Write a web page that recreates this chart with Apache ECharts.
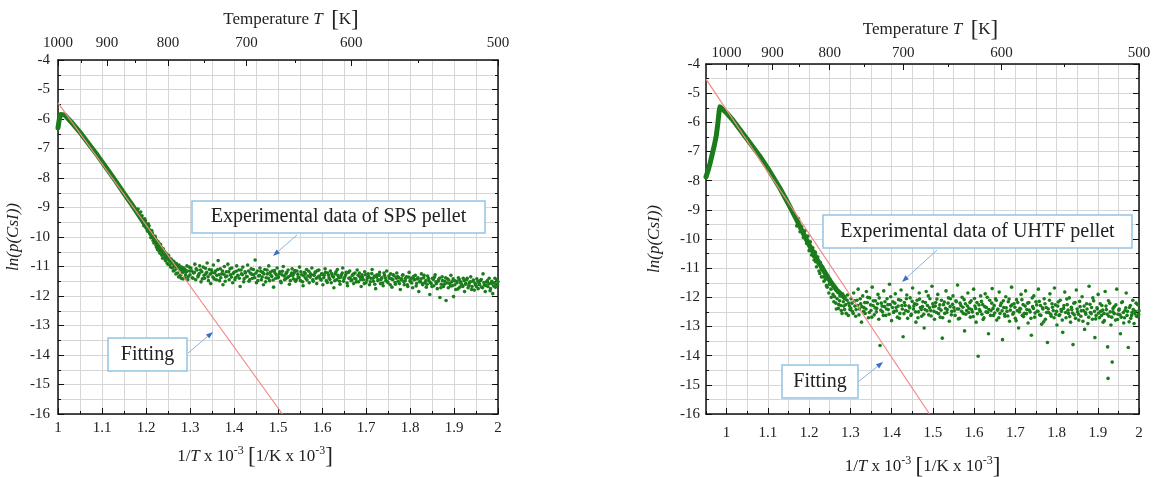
<!DOCTYPE html>
<html><head><meta charset="utf-8">
<script src="https://cdn.jsdelivr.net/npm/echarts@6/dist/echarts.min.js"></script>
<style>html,body{margin:0;padding:0;background:#fff}#c{width:1154px;height:477px}</style>
</head><body><div id="c"></div>
<script>
// ---------- tick labels ----------
const tempMajor = [1000, 900, 800, 700, 600, 500];
const tempMinor = [950, 850, 750, 650, 550];
const invTMajor = [1, 1.1, 1.2, 1.3, 1.4, 1.5, 1.6, 1.7, 1.8, 1.9, 2];

// ---------- left panel (SPS pellet) ----------
const leftCurve = [[1.000,-6.30],[1.003,-6.00],[1.006,-5.85],[1.009,-5.80],[1.015,-5.86],[1.030,-6.10],[1.050,-6.45],[1.070,-6.85],[1.090,-7.24],[1.110,-7.66],[1.130,-8.08],[1.150,-8.52],[1.170,-8.95],[1.190,-9.40],[1.210,-9.85],[1.230,-10.30],[1.250,-10.70],[1.270,-11.00],[1.290,-11.15]];
const leftScatter = [
[1.182,-9.05],[1.186,-9.35],[1.191,-9.28],[1.195,-9.62],[1.199,-9.45],[1.203,-9.80],[1.207,-9.62],[1.211,-10.02],[1.214,-9.85],[1.218,-10.20],[1.221,-9.98],[1.224,-10.35],[1.227,-10.15],[1.230,-10.48],[1.233,-10.25],[1.236,-10.62],[1.239,-10.40],[1.242,-10.70],[1.245,-10.55],[1.248,-10.88],[1.251,-10.62],[1.254,-10.95],[1.257,-10.75],[1.260,-11.05],[1.263,-10.82],[1.266,-11.12],[1.269,-10.90],[1.272,-11.22],[1.275,-10.95],[1.278,-11.30],[1.281,-11.02],[1.284,-11.42],[1.287,-11.10],[1.290,-11.28],[1.293,-10.98],[1.296,-11.35],[1.299,-11.15],
[1.302,-11.05],[1.305,-11.38],[1.308,-11.22],[1.311,-10.92],[1.313,-11.45],[1.316,-11.12],[1.319,-11.30],[1.322,-10.98],[1.325,-11.52],[1.327,-11.18],[1.330,-11.02],[1.333,-11.40],[1.336,-11.25],[1.339,-10.88],[1.341,-11.35],[1.344,-11.10],[1.347,-11.58],[1.350,-11.20],[1.353,-10.95],[1.355,-11.42],[1.358,-11.15],[1.361,-11.30],[1.364,-10.80],[1.367,-11.48],[1.369,-11.08],[1.372,-11.25],[1.375,-11.62],[1.378,-11.00],[1.381,-11.35],[1.383,-11.18],[1.386,-10.92],[1.389,-11.45],[1.392,-11.28],[1.395,-11.05],[1.397,-11.55],[1.400,-11.20],
[1.403,-11.38],[1.406,-10.98],[1.409,-11.30],[1.411,-11.12],[1.414,-11.68],[1.417,-11.25],[1.420,-11.02],[1.423,-11.42],[1.425,-11.18],[1.428,-11.35],[1.431,-10.95],[1.434,-11.50],[1.437,-11.22],[1.439,-11.08],[1.442,-11.40],[1.445,-11.28],[1.448,-10.78],[1.451,-11.55],[1.453,-11.15],[1.456,-11.32],[1.459,-11.05],[1.462,-11.45],[1.465,-11.20],[1.467,-11.62],[1.470,-11.10],[1.473,-11.38],[1.476,-11.25],[1.479,-10.98],[1.481,-11.48],[1.484,-11.30],[1.487,-11.15],[1.490,-11.70],[1.493,-11.22],[1.495,-11.40],[1.498,-11.05],
[1.501,-11.35],[1.504,-11.18],[1.507,-11.55],[1.509,-11.28],[1.512,-11.00],[1.515,-11.45],[1.518,-11.25],[1.521,-11.38],[1.523,-11.12],[1.526,-11.60],[1.529,-11.30],[1.532,-11.08],[1.535,-11.42],[1.537,-11.22],[1.540,-11.50],[1.543,-11.15],[1.546,-11.35],[1.549,-11.02],[1.551,-11.48],[1.554,-11.28],[1.557,-11.65],[1.560,-11.20],[1.563,-11.40],[1.565,-11.10],[1.568,-11.32],[1.571,-11.55],[1.574,-11.25],[1.577,-11.05],[1.579,-11.45],[1.582,-11.30],[1.585,-11.18],[1.588,-11.58],[1.591,-11.35],[1.593,-11.12],[1.596,-11.42],[1.599,-11.25],
[1.602,-11.62],[1.605,-11.30],[1.607,-11.08],[1.610,-11.48],[1.613,-11.22],[1.616,-11.38],[1.619,-11.15],[1.621,-11.55],[1.624,-11.32],[1.627,-11.72],[1.630,-11.25],[1.633,-11.45],[1.635,-11.10],[1.638,-11.38],[1.641,-11.60],[1.644,-11.28],[1.647,-11.05],[1.649,-11.50],[1.652,-11.35],[1.655,-11.20],[1.658,-11.65],[1.661,-11.40],[1.663,-11.15],[1.666,-11.48],[1.669,-11.30],[1.672,-11.58],[1.675,-11.22],[1.677,-11.42],[1.680,-11.12],[1.683,-11.52],[1.686,-11.35],[1.689,-11.68],[1.691,-11.28],[1.694,-11.45],[1.697,-11.18],
[1.700,-11.55],[1.703,-11.38],[1.705,-11.25],[1.708,-11.62],[1.711,-11.40],[1.714,-11.10],[1.717,-11.50],[1.719,-11.32],[1.722,-11.75],[1.725,-11.28],[1.728,-11.45],[1.731,-11.20],[1.733,-11.58],[1.736,-11.38],[1.739,-11.65],[1.742,-11.30],[1.745,-11.48],[1.747,-11.15],[1.750,-11.55],[1.753,-11.40],[1.756,-11.25],[1.759,-11.70],[1.761,-11.45],[1.764,-11.32],[1.767,-11.60],[1.770,-11.22],[1.773,-11.50],[1.775,-11.38],[1.778,-11.78],[1.781,-11.42],[1.784,-11.28],[1.787,-11.62],[1.789,-11.48],[1.792,-11.35],[1.795,-11.68],[1.798,-11.20],
[1.801,-11.52],[1.803,-11.40],[1.806,-11.72],[1.809,-11.45],[1.812,-11.30],[1.815,-11.58],[1.817,-11.42],[1.820,-11.85],[1.823,-11.50],[1.826,-11.25],[1.829,-11.62],[1.831,-11.38],[1.834,-11.55],[1.837,-11.70],[1.840,-11.32],[1.843,-11.48],[1.845,-11.95],[1.848,-11.58],[1.851,-11.40],[1.854,-11.65],[1.857,-11.28],[1.859,-11.52],[1.862,-11.75],[1.865,-11.45],[1.868,-12.05],[1.871,-11.60],[1.873,-11.35],[1.876,-11.68],[1.879,-11.50],[1.882,-12.15],[1.885,-11.42],[1.887,-11.72],[1.890,-11.58],[1.893,-11.30],[1.896,-11.65],[1.899,-12.02],
[1.901,-11.48],[1.904,-11.78],[1.907,-11.55],[1.910,-11.38],[1.913,-11.70],[1.915,-11.52],[1.918,-11.62],[1.921,-11.40],[1.924,-11.85],[1.927,-11.58],[1.929,-11.45],[1.932,-11.72],[1.935,-11.55],[1.938,-11.35],[1.941,-11.68],[1.943,-11.50],[1.946,-11.80],[1.949,-11.62],[1.952,-11.42],[1.955,-11.75],[1.957,-11.58],[1.960,-11.48],[1.963,-11.70],[1.966,-11.25],[1.969,-11.62],[1.971,-11.85],[1.974,-11.52],[1.977,-11.68],[1.980,-11.40],[1.983,-11.75],[1.985,-11.58],[1.988,-11.92],[1.991,-11.55],[1.994,-11.70],[1.997,-11.45],[1.999,-11.62]
];
const leftScatter2 = [
[1.188,-9.15],[1.193,-9.50],[1.197,-9.38],[1.201,-9.70],[1.205,-9.55],[1.209,-9.90],[1.213,-9.78],[1.216,-10.12],[1.220,-10.05],[1.223,-10.28],[1.226,-10.42],[1.229,-10.22],[1.232,-10.55],[1.235,-10.38],[1.238,-10.72],[1.241,-10.52],[1.244,-10.80],[1.247,-10.65],[1.250,-10.92],[1.253,-10.78],[1.256,-11.02],[1.259,-10.85],[1.262,-11.15],[1.265,-10.98],[1.268,-11.25],[1.271,-11.05],[1.274,-11.35],[1.277,-11.12],[1.280,-11.40],[1.283,-11.20],[1.286,-11.05],[1.289,-11.38],[1.292,-11.18],[1.295,-11.45],[1.298,-11.02],
[1.300,-11.28],[1.304,-11.15],[1.307,-11.40],[1.310,-11.20],[1.314,-11.08],[1.318,-11.35],[1.321,-11.24],[1.324,-11.12],[1.328,-11.42],[1.332,-11.30],[1.335,-11.06],[1.338,-11.20],[1.342,-11.48],[1.346,-11.26],[1.349,-11.12],[1.352,-11.36],[1.356,-11.22],[1.360,-11.45],[1.363,-11.10],[1.366,-11.28],[1.370,-11.38],[1.374,-11.15],[1.377,-11.26],[1.380,-11.50],[1.384,-11.32],[1.388,-11.18],[1.391,-11.08],[1.394,-11.36],[1.398,-11.24],
[1.402,-11.45],[1.405,-11.16],[1.408,-11.32],[1.412,-11.40],[1.416,-11.12],[1.419,-11.28],[1.422,-11.52],[1.426,-11.22],[1.430,-11.34],[1.433,-11.15],[1.436,-11.44],[1.440,-11.26],[1.444,-11.10],[1.447,-11.38],[1.450,-11.22],[1.454,-11.48],[1.458,-11.30],[1.461,-11.16],[1.464,-11.36],[1.468,-11.25],[1.472,-11.52],[1.475,-11.12],[1.478,-11.40],[1.482,-11.20],[1.486,-11.34],[1.489,-11.46],[1.492,-11.14],[1.496,-11.28],
[1.500,-11.38],[1.503,-11.24],[1.506,-11.50],[1.510,-11.16],[1.514,-11.32],[1.517,-11.42],[1.520,-11.20],[1.524,-11.35],[1.528,-11.48],[1.531,-11.22],[1.534,-11.30],[1.538,-11.14],[1.542,-11.44],[1.545,-11.26],[1.548,-11.38],[1.552,-11.18],[1.556,-11.52],[1.559,-11.32],[1.562,-11.24],[1.566,-11.46],[1.570,-11.16],[1.573,-11.36],[1.576,-11.28],[1.580,-11.50],[1.584,-11.22],[1.587,-11.40],[1.590,-11.14],[1.594,-11.32],[1.598,-11.46],
[1.601,-11.26],[1.604,-11.38],[1.608,-11.20],[1.612,-11.54],[1.615,-11.30],[1.618,-11.44],[1.622,-11.24],[1.626,-11.36],[1.629,-11.48],[1.632,-11.18],[1.636,-11.30],[1.640,-11.50],[1.643,-11.36],[1.646,-11.22],[1.650,-11.42],[1.654,-11.28],[1.657,-11.56],[1.660,-11.20],[1.664,-11.38],[1.668,-11.46],[1.671,-11.26],[1.674,-11.40],[1.678,-11.52],[1.682,-11.30],[1.685,-11.22],[1.688,-11.44],[1.692,-11.36],[1.696,-11.58],[1.699,-11.28],
[1.702,-11.46],[1.706,-11.34],[1.710,-11.52],[1.713,-11.24],[1.716,-11.40],[1.720,-11.60],[1.724,-11.36],[1.727,-11.48],[1.730,-11.30],[1.734,-11.44],[1.738,-11.56],[1.741,-11.22],[1.744,-11.38],[1.748,-11.50],[1.752,-11.32],[1.755,-11.62],[1.758,-11.42],[1.762,-11.28],[1.766,-11.54],[1.769,-11.40],[1.772,-11.34],[1.776,-11.58],[1.780,-11.46],[1.783,-11.30],[1.786,-11.52],[1.790,-11.40],[1.794,-11.62],[1.797,-11.36],
[1.800,-11.48],[1.804,-11.56],[1.808,-11.34],[1.811,-11.44],[1.814,-11.66],[1.818,-11.38],[1.822,-11.52],[1.825,-11.42],[1.828,-11.58],[1.832,-11.30],[1.836,-11.48],[1.839,-11.60],[1.842,-11.40],[1.846,-11.54],[1.850,-11.68],[1.853,-11.44],[1.856,-11.36],[1.860,-11.58],[1.864,-11.50],[1.867,-11.40],[1.870,-11.72],[1.874,-11.48],[1.878,-11.60],[1.881,-11.38],[1.884,-11.56],[1.888,-11.46],[1.892,-11.66],[1.895,-11.52],[1.898,-11.42],
[1.902,-11.62],[1.906,-11.50],[1.909,-11.76],[1.912,-11.44],[1.916,-11.58],[1.920,-11.68],[1.923,-11.48],[1.926,-11.60],[1.930,-11.40],[1.934,-11.64],[1.937,-11.52],[1.940,-11.78],[1.944,-11.46],[1.948,-11.58],[1.951,-11.68],[1.954,-11.50],[1.958,-11.62],[1.962,-11.44],[1.965,-11.72],[1.968,-11.54],[1.972,-11.64],[1.976,-11.48],[1.979,-11.58],[1.982,-11.82],[1.986,-11.50],[1.990,-11.66],[1.993,-11.40],[1.996,-11.60],[2.000,-11.52]
];
const leftFit = [[1.0,-5.45],[1.51,-16]];

// ---------- right panel (UHTF pellet) ----------
const rightCurve = [[0.950,-7.87],[0.955,-7.65],[0.960,-7.40],[0.965,-7.10],[0.970,-6.80],[0.975,-6.45],[0.979,-6.00],[0.982,-5.60],[0.984,-5.47],[0.988,-5.50],[1.000,-5.68],[1.015,-5.92],[1.030,-6.20],[1.050,-6.58],[1.080,-7.15],[1.100,-7.58],[1.129,-8.25],[1.150,-8.80],[1.169,-9.32],[1.185,-9.78],[1.202,-10.25],[1.220,-10.72],[1.234,-11.05],[1.250,-11.42],[1.267,-11.75],[1.285,-12.00]];
const rightScatter = [
[1.170,-9.55],[1.174,-9.30],[1.178,-9.75],[1.182,-9.58],[1.186,-9.95],[1.190,-9.72],[1.194,-10.15],[1.197,-9.90],[1.200,-10.40],[1.203,-10.10],[1.206,-10.55],[1.209,-10.30],[1.212,-10.72],[1.215,-10.45],[1.218,-10.95],[1.221,-10.62],[1.224,-11.10],[1.227,-10.80],[1.230,-11.30],[1.233,-10.95],[1.236,-11.45],[1.239,-11.12],[1.242,-11.60],[1.245,-11.25],[1.248,-11.85],[1.251,-11.40],[1.254,-12.00],[1.257,-11.55],[1.260,-12.15],[1.263,-11.70],[1.266,-12.40],[1.269,-11.82],[1.272,-12.25],[1.275,-11.95],[1.278,-12.45],[1.281,-11.88],[1.284,-12.30],[1.287,-12.05],[1.290,-12.55],[1.293,-11.92],[1.296,-12.20],[1.299,-12.42],
[1.302,-12.05],[1.305,-12.48],[1.308,-11.85],[1.311,-12.30],[1.313,-12.65],[1.316,-12.10],[1.319,-11.72],[1.322,-12.40],[1.325,-12.22],[1.327,-12.85],[1.330,-11.95],[1.333,-12.35],[1.336,-12.55],[1.339,-11.80],[1.341,-12.18],[1.344,-12.70],[1.347,-12.02],[1.350,-12.45],[1.353,-11.65],[1.355,-12.28],[1.358,-12.60],[1.361,-12.12],[1.364,-12.38],[1.367,-11.90],[1.369,-12.75],[1.372,-13.65],[1.375,-12.20],[1.378,-12.50],[1.381,-11.78],[1.383,-12.32],[1.386,-12.62],[1.389,-12.05],[1.392,-12.42],[1.395,-11.55],[1.397,-12.25],[1.400,-12.80],
[1.403,-12.15],[1.406,-12.48],[1.409,-11.88],[1.411,-12.35],[1.414,-12.68],[1.417,-12.08],[1.420,-12.55],[1.423,-11.75],[1.425,-12.28],[1.428,-13.35],[1.431,-12.18],[1.434,-12.45],[1.437,-11.92],[1.439,-12.72],[1.442,-12.30],[1.445,-12.02],[1.448,-12.58],[1.451,-11.68],[1.453,-12.40],[1.456,-12.22],[1.459,-12.85],[1.462,-12.10],[1.465,-12.50],[1.467,-11.85],[1.470,-12.35],[1.473,-12.65],[1.476,-12.15],[1.479,-13.05],[1.481,-12.42],[1.484,-11.80],[1.487,-12.28],[1.490,-12.60],[1.493,-12.05],[1.495,-12.45],[1.498,-11.62],
[1.501,-12.32],[1.504,-12.75],[1.507,-12.18],[1.509,-12.52],[1.512,-11.90],[1.515,-12.38],[1.518,-12.68],[1.521,-12.10],[1.523,-13.40],[1.526,-12.25],[1.529,-12.55],[1.532,-11.78],[1.535,-12.42],[1.537,-12.20],[1.540,-12.82],[1.543,-12.05],[1.546,-12.48],[1.549,-11.95],[1.551,-12.35],[1.554,-12.62],[1.557,-12.15],[1.560,-11.58],[1.563,-12.40],[1.565,-12.72],[1.568,-12.28],[1.571,-12.00],[1.574,-12.55],[1.577,-13.15],[1.579,-12.22],[1.582,-12.45],[1.585,-11.85],[1.588,-12.38],[1.591,-12.68],[1.593,-12.12],[1.596,-12.50],[1.599,-11.72],
[1.602,-12.30],[1.605,-12.85],[1.607,-12.18],[1.610,-14.02],[1.613,-12.42],[1.616,-11.95],[1.619,-12.58],[1.621,-12.25],[1.624,-12.70],[1.627,-11.88],[1.630,-12.35],[1.633,-12.52],[1.635,-13.25],[1.638,-12.10],[1.641,-12.45],[1.644,-11.70],[1.647,-12.62],[1.649,-12.28],[1.652,-12.05],[1.655,-12.78],[1.658,-12.40],[1.661,-11.82],[1.663,-12.55],[1.666,-12.20],[1.669,-13.45],[1.672,-12.35],[1.675,-12.65],[1.677,-11.98],[1.680,-12.48],[1.683,-12.15],[1.686,-12.82],[1.689,-12.30],[1.691,-11.65],[1.694,-12.58],[1.697,-12.22],
[1.700,-12.72],[1.703,-12.08],[1.705,-12.45],[1.708,-13.05],[1.711,-12.38],[1.714,-11.90],[1.717,-12.62],[1.719,-12.25],[1.722,-12.55],[1.725,-11.78],[1.728,-12.42],[1.731,-12.88],[1.733,-12.18],[1.736,-12.50],[1.739,-13.30],[1.742,-12.32],[1.745,-11.95],[1.747,-12.68],[1.750,-12.15],[1.753,-12.48],[1.756,-11.72],[1.759,-12.60],[1.761,-12.28],[1.764,-12.92],[1.767,-12.40],[1.770,-12.05],[1.773,-12.75],[1.775,-12.35],[1.778,-13.55],[1.781,-12.52],[1.784,-11.88],[1.787,-12.65],[1.789,-12.22],[1.792,-12.45],[1.795,-11.68],[1.798,-12.58],
[1.801,-12.95],[1.803,-12.30],[1.806,-12.62],[1.809,-12.10],[1.812,-12.48],[1.815,-13.20],[1.817,-12.38],[1.820,-11.82],[1.823,-12.70],[1.826,-12.25],[1.829,-12.55],[1.831,-12.02],[1.834,-12.85],[1.837,-12.42],[1.840,-13.62],[1.843,-12.60],[1.845,-12.18],[1.848,-11.75],[1.851,-12.50],[1.854,-12.78],[1.857,-12.32],[1.859,-12.65],[1.862,-11.98],[1.865,-12.45],[1.868,-13.10],[1.871,-12.58],[1.873,-12.22],[1.876,-12.90],[1.879,-11.62],[1.882,-12.52],[1.885,-12.35],[1.887,-12.75],[1.890,-12.12],[1.893,-13.38],[1.896,-12.62],[1.899,-12.40],
[1.901,-11.90],[1.904,-12.70],[1.907,-12.48],[1.910,-12.28],[1.913,-12.85],[1.915,-12.55],[1.918,-11.80],[1.921,-12.42],[1.924,-13.70],[1.925,-14.78],[1.927,-12.65],[1.929,-12.20],[1.932,-12.95],[1.935,-14.22],[1.937,-12.50],[1.940,-12.32],[1.943,-12.78],[1.946,-11.72],[1.949,-12.58],[1.952,-12.40],[1.955,-13.25],[1.957,-12.68],[1.960,-12.15],[1.963,-12.88],[1.966,-12.45],[1.969,-11.85],[1.971,-12.62],[1.974,-13.72],[1.977,-12.35],[1.980,-12.72],[1.983,-12.52],[1.985,-12.10],[1.988,-12.90],[1.991,-12.48],[1.994,-12.65],[1.997,-12.25],[1.999,-12.58]
];
const rightScatter2 = [
[1.205,-10.35],[1.211,-10.60],[1.216,-10.78],[1.222,-10.85],[1.226,-11.18],[1.231,-11.05],[1.235,-11.30],[1.240,-11.38],[1.244,-11.65],[1.249,-11.55],[1.253,-11.72],[1.258,-11.90],[1.262,-11.98],[1.265,-12.20],[1.268,-12.05],[1.271,-12.38],[1.274,-12.12],[1.277,-12.28],[1.280,-12.55],[1.283,-12.15],[1.286,-12.42],[1.289,-12.25],[1.292,-12.10],[1.295,-12.62],[1.298,-12.30],
[1.301,-12.38],[1.304,-12.20],[1.307,-12.55],[1.310,-12.12],[1.314,-12.42],[1.318,-12.28],[1.321,-12.60],[1.324,-12.05],[1.328,-12.32],[1.332,-12.48],[1.335,-12.18],[1.338,-12.40],[1.342,-12.00],[1.346,-12.52],[1.349,-12.26],[1.352,-12.68],[1.356,-12.12],[1.360,-12.36],[1.363,-12.50],[1.366,-12.22],[1.370,-12.02],[1.374,-12.44],[1.377,-12.30],[1.380,-12.62],[1.384,-12.15],[1.388,-12.40],[1.391,-12.25],[1.394,-12.58],[1.398,-11.98],
[1.402,-12.35],[1.405,-12.52],[1.408,-12.20],[1.412,-12.46],[1.416,-12.30],[1.419,-12.72],[1.422,-12.10],[1.426,-12.40],[1.430,-12.56],[1.433,-12.28],[1.436,-12.05],[1.440,-12.48],[1.444,-12.36],[1.447,-12.62],[1.450,-12.14],[1.454,-12.30],[1.458,-12.50],[1.461,-12.24],[1.464,-12.70],[1.468,-12.06],[1.472,-12.42],[1.475,-12.32],[1.478,-12.58],[1.482,-12.18],[1.486,-12.46],[1.489,-11.95],[1.492,-12.36],[1.496,-12.64],
[1.500,-12.22],[1.503,-12.48],[1.506,-12.30],[1.510,-12.06],[1.514,-12.56],[1.517,-12.26],[1.520,-12.44],[1.524,-12.70],[1.528,-12.16],[1.531,-12.38],[1.534,-12.52],[1.538,-12.02],[1.542,-12.32],[1.545,-12.60],[1.548,-12.24],[1.552,-12.46],[1.556,-12.12],[1.559,-12.40],[1.562,-12.74],[1.566,-12.20],[1.570,-12.48],[1.573,-12.34],[1.576,-12.08],[1.580,-12.58],[1.584,-12.30],[1.587,-12.52],[1.590,-12.18],[1.594,-12.42],[1.598,-12.66],
[1.601,-12.04],[1.604,-12.38],[1.608,-12.56],[1.612,-12.26],[1.615,-12.48],[1.618,-12.14],[1.622,-12.76],[1.626,-12.32],[1.629,-12.50],[1.632,-12.00],[1.636,-12.42],[1.640,-12.62],[1.643,-12.20],[1.646,-12.38],[1.650,-12.54],[1.654,-12.10],[1.657,-12.44],[1.660,-12.70],[1.664,-12.28],[1.668,-12.46],[1.671,-12.12],[1.674,-12.58],[1.678,-12.36],[1.682,-12.64],[1.685,-12.06],[1.688,-12.44],[1.692,-12.26],[1.696,-12.52],[1.699,-12.34],
[1.702,-12.80],[1.706,-12.18],[1.710,-12.50],[1.713,-12.40],[1.716,-12.08],[1.720,-12.66],[1.724,-12.30],[1.727,-12.56],[1.730,-12.20],[1.734,-12.44],[1.738,-12.72],[1.741,-12.02],[1.744,-12.38],[1.748,-12.54],[1.752,-12.26],[1.755,-12.48],[1.758,-12.14],[1.762,-12.62],[1.766,-12.36],[1.769,-12.84],[1.772,-12.22],[1.776,-12.52],[1.780,-12.40],[1.783,-12.10],[1.786,-12.58],[1.790,-12.34],[1.794,-12.70],[1.797,-12.26],
[1.800,-12.48],[1.804,-12.16],[1.808,-12.60],[1.811,-12.42],[1.814,-12.78],[1.818,-12.28],[1.822,-12.52],[1.825,-12.06],[1.828,-12.44],[1.832,-12.66],[1.836,-12.34],[1.839,-12.54],[1.842,-12.20],[1.846,-12.72],[1.850,-12.40],[1.853,-12.58],[1.856,-12.14],[1.860,-12.46],[1.864,-12.82],[1.867,-12.30],[1.870,-12.52],[1.874,-12.40],[1.878,-12.68],[1.881,-12.24],[1.884,-12.56],[1.888,-12.02],[1.892,-12.48],[1.895,-12.74],[1.898,-12.36],
[1.902,-12.54],[1.906,-12.22],[1.909,-12.62],[1.912,-12.44],[1.916,-12.80],[1.920,-12.30],[1.923,-12.58],[1.926,-12.12],[1.930,-12.50],[1.934,-12.68],[1.937,-12.38],[1.940,-12.56],[1.944,-12.26],[1.948,-12.76],[1.951,-12.44],[1.954,-12.60],[1.958,-12.18],[1.962,-12.52],[1.965,-12.70],[1.968,-12.36],[1.972,-12.48],[1.976,-12.84],[1.979,-12.28],[1.982,-12.62],[1.986,-12.42],[1.990,-12.56],[1.993,-12.20],[1.996,-12.66],[2.000,-12.46]
];
const rightFit = [[0.95,-4.52],[1.492,-16]];

// ---------- styling ----------
const FONT = 'Liberation Serif';
const GREEN = '#1b7c1b';
const RED = '#f08a8a';
const GRID_C = '#d6d6d6';
const lab = {fontFamily: FONT, fontSize: 15, color: '#222'};
const rich = {
  n: {fontFamily: FONT, fontSize: 17, color: '#222', lineHeight: 24},
  i: {fontFamily: FONT, fontSize: 17, color: '#222', fontStyle: 'italic', lineHeight: 24},
  s: {fontFamily: FONT, fontSize: 12, color: '#222', lineHeight: 12, verticalAlign: 'top'},
  b: {fontFamily: FONT, fontSize: 23, color: '#222', lineHeight: 24}
};
const axisLine = {show: true, onZero: false, lineStyle: {color: '#111', width: 1.5}};
const invT = t => 1000 / t;

function xMain(grid, min, interval, labelMargin, namePad, nameGap) {
  return {
    type: 'value', gridIndex: grid, position: 'bottom', min: min, max: 2, interval: interval,
    axisLine: axisLine,
    axisTick: {show: true, inside: true, length: interval === 0.1 ? 6 : 3, lineStyle: {color: '#111'}},
    minorTick: {show: interval === 0.1, splitNumber: 2, length: 3, lineStyle: {color: '#111'}},
    splitLine: {show: true, lineStyle: {color: GRID_C, width: 1}},
    minorSplitLine: {show: interval === 0.1, lineStyle: {color: GRID_C, width: 1}},
    axisLabel: Object.assign({margin: labelMargin, formatter: v => {
      const r = Math.round(v * 10) / 10; return Math.abs(v - r) < 1e-6 ? String(r) : '';
    }}, lab),
    name: '{n|1/}{i|T}{n| x 10}{s|-3}{n| }{b|[}{n|1/K x 10}{s|-3}{b|]}',
    nameLocation: 'middle', nameGap: nameGap,
    nameTextStyle: {rich: rich, padding: namePad}
  };
}
function xTop(grid, min, labelMargin, nameGap, namePad) {
  const vals = tempMajor.map(invT);
  return {
    type: 'value', gridIndex: grid, position: 'top', min: min, max: 2,
    axisLine: axisLine,
    axisTick: {show: true, inside: true, length: 6, customValues: vals, lineStyle: {color: '#111'}},
    splitLine: {show: false},
    axisLabel: Object.assign({margin: labelMargin, customValues: vals, formatter: v => String(Math.round(1000 / v))}, lab),
    name: '{n|Temperature }{i|T}{n|  }{b|[}{n|K}{b|]}',
    nameLocation: 'middle', nameGap: nameGap,
    nameTextStyle: {rich: rich, padding: namePad}
  };
}
function xOverlayTop(grid, min) {
  return {
    type: 'value', gridIndex: grid, position: 'top', min: min, max: 2,
    axisLine: {show: false}, splitLine: {show: false}, axisLabel: {show: false},
    axisTick: {show: true, inside: true, length: 3, customValues: tempMinor.map(invT), lineStyle: {color: '#111'}}
  };
}
function xOverlayBottom(grid, min) {
  return {
    type: 'value', gridIndex: grid, position: 'bottom', min: min, max: 2,
    axisLine: {show: false}, splitLine: {show: false}, axisLabel: {show: false},
    axisTick: {show: true, inside: true, length: 6, customValues: invTMajor, lineStyle: {color: '#111'}}
  };
}
function yLeft(grid, labelMargin, nameGap) {
  return {
    type: 'value', gridIndex: grid, position: 'left', min: -16, max: -4, interval: 1,
    axisLine: axisLine,
    axisTick: {show: true, inside: true, length: 6, lineStyle: {color: '#111'}},
    minorTick: {show: true, splitNumber: 2, length: 3, lineStyle: {color: '#111'}},
    splitLine: {show: true, lineStyle: {color: GRID_C, width: 1}},
    minorSplitLine: {show: true, lineStyle: {color: GRID_C, width: 1}},
    axisLabel: Object.assign({margin: labelMargin}, lab),
    name: 'ln(p(CsI))', nameLocation: 'middle', nameGap: nameGap, nameRotate: 90,
    nameTextStyle: {fontFamily: FONT, fontSize: 17, fontStyle: 'italic', color: '#222'}
  };
}
function yRight(grid) {
  return {
    type: 'value', gridIndex: grid, position: 'right', min: -16, max: -4, interval: 1,
    axisLine: axisLine,
    axisTick: {show: true, inside: true, length: 6, lineStyle: {color: '#111'}},
    minorTick: {show: true, splitNumber: 2, length: 3, lineStyle: {color: '#111'}},
    splitLine: {show: false}, axisLabel: {show: false}
  };
}
function yHidden(grid) {
  return {type: 'value', gridIndex: grid, min: -16, max: -4, show: false};
}

const gridL = {left: 58, right: 656, top: 60, bottom: 63, outerBoundsMode: 'none', containLabel: false};
const gridR = {left: 706, right: 15, top: 64, bottom: 63, outerBoundsMode: 'none', containLabel: false};

function dataSeries(xi, yi, curve, pts, pts2, fit) {
  const sc = d => ({type: 'scatter', xAxisIndex: xi, yAxisIndex: yi, data: d, symbol: 'circle', symbolSize: 3.6,
     itemStyle: {color: GREEN, opacity: 1}, z: 3, silent: true});
  return [
    {type: 'line', xAxisIndex: xi, yAxisIndex: yi, data: curve, showSymbol: false, symbol: 'none',
     lineStyle: {color: GREEN, width: 5, join: 'round', cap: 'round'}, z: 2, silent: true},
    sc(pts), sc(pts2),
    {type: 'line', xAxisIndex: xi, yAxisIndex: yi, data: fit, showSymbol: false, symbol: 'none',
     lineStyle: {color: RED, width: 1.2}, z: 4, silent: true}
  ];
}

// ---------- annotation boxes & arrows ----------
function box(x, y, w, h, text) {
  return [
    {type: 'rect', shape: {x: x, y: y, width: w, height: h}, style: {fill: '#fff', stroke: '#93c4e6', lineWidth: 1.5}, z: 100},
    {type: 'text', x: x + w / 2, y: y + h / 2, style: {text: text, fontFamily: FONT, fontSize: 20, fill: '#222', align: 'center', verticalAlign: 'middle'}, z: 101}
  ];
}
function arrow(x1, y1, x2, y2) {
  const a = Math.atan2(y2 - y1, x2 - x1), L = 7, W = 2.6;
  const bx = x2 - L * Math.cos(a), by = y2 - L * Math.sin(a);
  return [
    {type: 'line', shape: {x1: x1, y1: y1, x2: bx, y2: by}, style: {stroke: '#8fb2da', lineWidth: 1}, z: 100},
    {type: 'polygon', shape: {points: [[x2, y2], [bx + W * Math.sin(a), by - W * Math.cos(a)], [bx - W * Math.sin(a), by + W * Math.cos(a)]]}, style: {fill: '#3a6fc4'}, z: 100}
  ];
}
const graphics = [].concat(
  box(192, 201, 293, 32, 'Experimental data of SPS pellet'), arrow(297, 235, 273, 256),
  box(108, 338, 79, 33, 'Fitting'), arrow(188, 353, 213, 332),
  box(823, 215, 309, 33, 'Experimental data of UHTF pellet'), arrow(937, 250, 902, 282),
  box(782, 365, 76, 33, 'Fitting'), arrow(858, 382, 883, 362)
);

const option = {
  animation: false,
  backgroundColor: '#fff',
  grid: [gridL, gridL, gridR, gridR],
  xAxis: [
    xMain(0, 1, 0.1, 7, [0, 46, 0, 0], 31),
    xTop(0, 1, 9, 28, [0, 0, 0, 26]),
    xOverlayTop(1, 1),
    xMain(2, 0.95, 0.05, 12, [0, 0, 0, 0], 41),
    xTop(2, 0.95, 3, 22, [0, 0, 0, 16]),
    xOverlayBottom(3, 0.95),
    xOverlayTop(3, 0.95)
  ],
  yAxis: [
    yLeft(0, 8, 36), yRight(0), yHidden(1),
    yLeft(2, 6, 43), yRight(2), yHidden(3)
  ],
  series: [].concat(
    dataSeries(0, 0, leftCurve, leftScatter, leftScatter2, leftFit),
    dataSeries(3, 3, rightCurve, rightScatter, rightScatter2, rightFit)
  ),
  graphic: graphics
};

const chart = echarts.init(document.getElementById('c'), null, {renderer: 'canvas'});
chart.setOption(option);
</script>
</body></html>
